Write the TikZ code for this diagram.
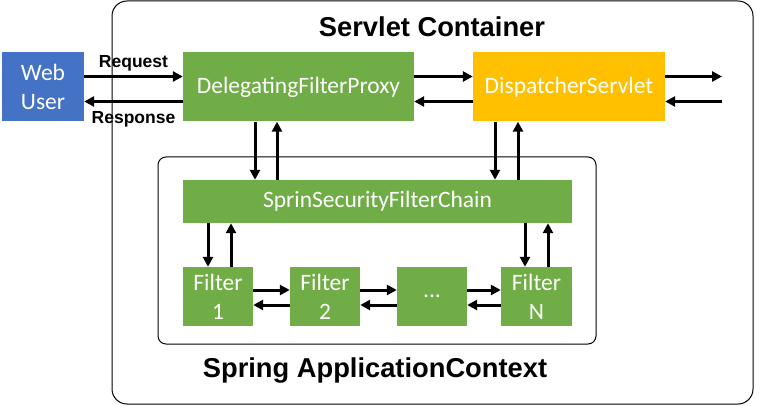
\documentclass[tikz,border=0pt]{standalone}
\usepackage{fontspec}
\setmainfont{Carlito}
\newfontfamily\headfont{Liberation Sans}
\usetikzlibrary{arrows.meta}
\definecolor{boxgreen}{HTML}{70AD47}
\definecolor{boxblue}{HTML}{4472C4}
\definecolor{boxyellow}{HTML}{FFC000}
\tikzset{
	block/.style={fill=#1, text=white, inner sep=0pt, font=\fontsize{23.5}{29}\selectfont, align=center},
	arr/.style={line width=3pt, -{Triangle[length=10pt, width=10pt]}},
	title/.style={font=\headfont\bfseries\fontsize{27.3}{30}\selectfont},
	lbl/.style={font=\headfont\bfseries\fontsize{17.5}{19}\selectfont}
}
\begin{document}
\begin{tikzpicture}[x=1pt, y=-1pt]
	\useasboundingbox (0,0) rectangle (763,406);
	% containers
	\draw[rounded corners=15pt, line width=1pt] (112,1) rectangle (753,404);
	\draw[rounded corners=8pt, line width=1pt] (158,157) rectangle (596,344);
	\node[title] (servlet) at (432,27) {Servlet Container};
	\node[title] (context) at (375,370) {Spring ApplicationContext};
	
	% boxes
	\node[block=boxblue, minimum width=82pt, minimum height=69pt] (web) at (43,87) {Web\\User};
	\node[block=boxgreen, minimum width=231pt, minimum height=69pt] (proxy) at (298.5,87) {DelegatingFilterProxy};
	\node[block=boxyellow, minimum width=192pt, minimum height=69pt] (dispatcher) at (569,87) {DispatcherServlet};
	\node[block=boxgreen, minimum width=389pt, minimum height=43pt] (chain) at (377.5,201.5) {SprinSecurityFilterChain};
	\node[block=boxgreen, minimum width=70pt, minimum height=59pt] (f1) at (218,296.5) {Filter\\1};
	\node[block=boxgreen, minimum width=70pt, minimum height=59pt] (f2) at (325,296.5) {Filter\\2};
	\node[block=boxgreen, minimum width=70pt, minimum height=59pt] (fdots) at (432,296.5) {...};
	\node[block=boxgreen, minimum width=71pt, minimum height=59pt] (fn) at (536.5,296.5) {Filter\\N};
	\coordinate (out) at (722,87);
	
	% request / response
	\draw[arr] ([yshift=10.5pt]web.east) -- node[lbl, above=1pt] (request) {Request} ([yshift=10.5pt]proxy.west);
	\draw[arr] ([yshift=-14.5pt]proxy.west) -- node[lbl, below=5pt] (response) {Response} ([yshift=-14.5pt]web.east);
	\draw[arr] ([yshift=10.5pt]proxy.east) -- ([yshift=10.5pt]dispatcher.west);
	\draw[arr] ([yshift=-14.5pt]dispatcher.west) -- ([yshift=-14.5pt]proxy.east);
	\draw[arr] ([yshift=10.5pt]dispatcher.east) -- ([yshift=10.5pt]out);
	\draw[arr] ([yshift=-14.5pt]out) -- ([yshift=-14.5pt]dispatcher.east);
	
	% into the chain
	\draw[arr] ([xshift=-43.5pt]proxy.south) -- ([xshift=-43.5pt]proxy.south |- chain.north);
	\draw[arr] ([xshift=-21.5pt]proxy.south |- chain.north) -- ([xshift=-21.5pt]proxy.south);
	\draw[arr] ([xshift=-74pt]dispatcher.south) -- ([xshift=-74pt]dispatcher.south |- chain.north);
	\draw[arr] ([xshift=-51pt]dispatcher.south |- chain.north) -- ([xshift=-51pt]dispatcher.south);
	\draw[arr] ([xshift=-10pt]f1.north |- chain.south) -- ([xshift=-10pt]f1.north);
	\draw[arr] ([xshift=13pt]f1.north) -- ([xshift=13pt]f1.north |- chain.south);
	\draw[arr] ([xshift=-11.5pt]fn.north |- chain.south) -- ([xshift=-11.5pt]fn.north);
	\draw[arr] ([xshift=11.5pt]fn.north) -- ([xshift=11.5pt]fn.north |- chain.south);
	
	% along the filters
	\draw[arr] ([yshift=6.5pt]f1.east) -- ([yshift=6.5pt]f2.west);
	\draw[arr] ([yshift=-8.5pt]f2.west) -- ([yshift=-8.5pt]f1.east);
	\draw[arr] ([yshift=6.5pt]f2.east) -- ([yshift=6.5pt]fdots.west);
	\draw[arr] ([yshift=-8.5pt]fdots.west) -- ([yshift=-8.5pt]f2.east);
	\draw[arr] ([yshift=6.5pt]fdots.east) -- ([yshift=6.5pt]fn.west);
	\draw[arr] ([yshift=-8.5pt]fn.west) -- ([yshift=-8.5pt]fdots.east);
\end{tikzpicture}
\end{document}
